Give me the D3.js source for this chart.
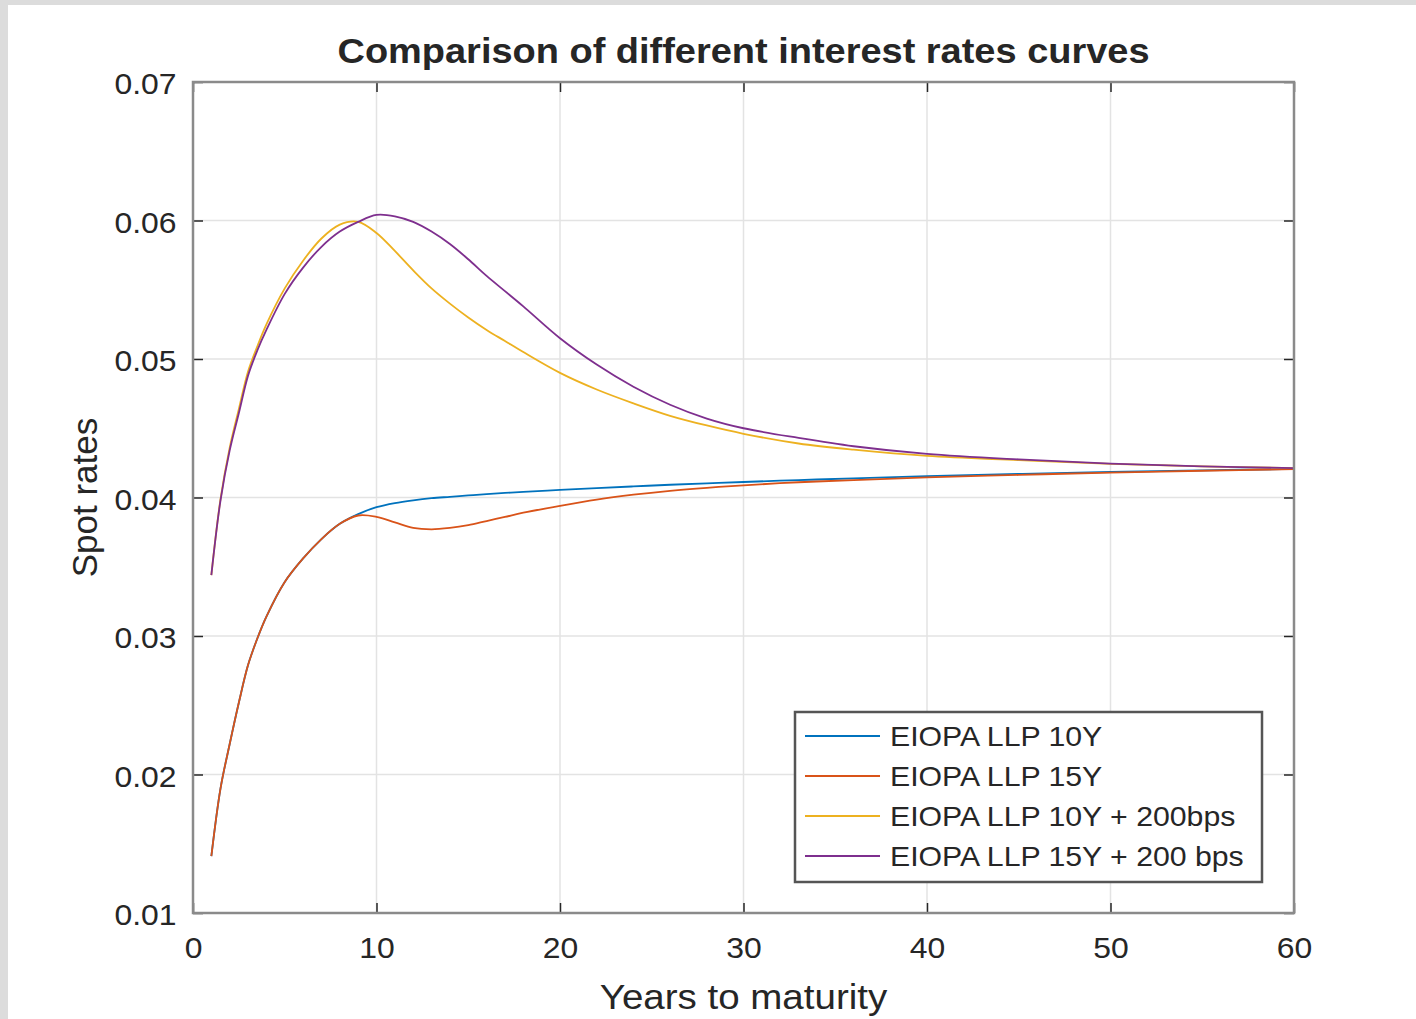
<!DOCTYPE html>
<html><head><meta charset="utf-8">
<script src="https://cdn.jsdelivr.net/npm/d3@7"></script>
<style>
body{margin:0;background:#fff;}
svg{display:block;}
text{font-family:"Liberation Sans",Arial,Helvetica,sans-serif;fill:#262626;}
</style>
</head><body>
<svg id="chart" width="1416" height="1019"></svg>
<script>
// ---- data ----
const years = [1,1.5,2,2.5,3,3.5,4,5,6,7,8,9,10,11,12,13,14,15,16,17,18,20,22,24,26,28,30,33,36,40,45,50,55,60];
const llp10 = [0.0141,0.0190,0.0222,0.0252,0.0279,0.0298,0.0314,0.0339,0.0356,0.0370,0.0381,0.0388,0.03930,0.03960,0.03980,0.03995,0.04005,0.04015,0.04025,0.04033,0.04040,0.04055,0.04068,0.04080,0.04092,0.04102,0.04112,0.04126,0.04138,0.04155,0.04170,0.04184,0.04196,0.04206];
const llp15 = [0.0141,0.0190,0.0222,0.0252,0.0279,0.0298,0.0314,0.0339,0.0356,0.0370,0.0381,0.0387,0.0386,0.0382,0.0378,0.0377,0.0378,0.0380,0.0383,0.0386,0.0389,0.0394,0.03985,0.04020,0.04048,0.04070,0.04088,0.04110,0.04125,0.04145,0.04163,0.04180,0.04193,0.04205];
const llp10plus200 = [0.0344,0.0399,0.0436,0.0464,0.0491,0.0509,0.0525,0.0551,0.0571,0.0587,0.0597,0.0599,0.0591,0.0578,0.0564,0.0551,0.0540,0.0530,0.0521,0.0513,0.0505,0.0490,0.0478,0.0468,0.0459,0.0452,0.0446,0.0439,0.04345,0.04300,0.04270,0.04243,0.04225,0.04212];
const llp15plus200 = [0.0344,0.0398,0.0434,0.0461,0.0488,0.0506,0.0521,0.0547,0.0566,0.0581,0.0592,0.0599,0.0604,0.0603,0.0599,0.0592,0.0583,0.0572,0.0560,0.0549,0.0538,0.0515,0.0496,0.0480,0.0467,0.0457,0.0450,0.0443,0.0437,0.04315,0.04275,0.04245,0.04225,0.04212];
const seriesNames = ["EIOPA LLP 10Y","EIOPA LLP 15Y","EIOPA LLP 10Y + 200bps","EIOPA LLP 15Y + 200 bps"];
const xTickValues = [0,10,20,30,40,50,60];
const yTickValues = [0.01,0.02,0.03,0.04,0.05,0.06,0.07];
const titleText = "Comparison of different interest rates curves";
const xLabel = "Years to maturity";
const yLabel = "Spot rates";

// ---- styling ----
const colors = ["#0072BD","#D95319","#EDB120","#7E2F8E"];
const SX = 1.1; // horizontal stretch of the reference's text
const W = 1416, H = 1019;
const m = {left:193, right:122, top:82, bottom:106};
const iw = W - m.left - m.right, ih = H - m.top - m.bottom;

const svg = d3.select("#chart");
svg.append("rect").attr("x",0).attr("y",0).attr("width",W).attr("height",5).attr("fill","#dcdcdc");
svg.append("rect").attr("x",0).attr("y",0).attr("width",8).attr("height",H).attr("fill","#dcdcdc");

const x = d3.scaleLinear().domain([0,60]).range([0,iw]);
const y = d3.scaleLinear().domain([0.01,0.07]).range([ih,0]);

const g = svg.append("g").attr("transform",`translate(${m.left},${m.top})`);

// grid
g.append("g").selectAll("line").data(xTickValues.slice(1,-1)).join("line")
  .attr("x1",d=>x(d)).attr("x2",d=>x(d)).attr("y1",0).attr("y2",ih)
  .attr("stroke","#e3e3e3").attr("stroke-width",1.5);
g.append("g").selectAll("line").data(yTickValues.slice(1,-1)).join("line")
  .attr("y1",d=>y(d)).attr("y2",d=>y(d)).attr("x1",0).attr("x2",iw)
  .attr("stroke","#e3e3e3").attr("stroke-width",1.5);

// series
const series = [llp10, llp15, llp10plus200, llp15plus200];
const line = d3.line().x((d,i)=>x(years[i])).y(d=>y(d)).curve(d3.curveCatmullRom.alpha(0.5));
series.forEach((s,k)=>{
  g.append("path").datum(s).attr("d",line).attr("fill","none")
   .attr("stroke",colors[k]).attr("stroke-width",1.8).attr("stroke-linejoin","round");
});

// axes (ticks inward, on all four sides)
const tickStyle = sel => {
  sel.select(".domain").remove();
  sel.selectAll(".tick line").attr("stroke","#262626").attr("stroke-width",1.5);
  sel.selectAll(".tick text").attr("fill","#262626").style("font-size","29px");
};
const xb = g.append("g").attr("transform",`translate(0,${ih})`)
  .call(d3.axisBottom(x).tickValues(xTickValues).tickSizeInner(-10).tickSizeOuter(0).tickPadding(24).tickFormat(d3.format("d")));
tickStyle(xb);
xb.selectAll(".tick text").attr("dy","0.71em").attr("transform",`scale(${SX},1)`);
const xt = g.append("g")
  .call(d3.axisTop(x).tickValues(xTickValues).tickSizeInner(-10).tickSizeOuter(0).tickFormat(""));
tickStyle(xt);
const yl = g.append("g")
  .call(d3.axisLeft(y).tickValues(yTickValues).tickSizeInner(-10).tickSizeOuter(0).tickPadding(15).tickFormat(d3.format(".2f")));
tickStyle(yl);
yl.selectAll(".tick text").attr("dy","0.4em").attr("transform",`scale(${SX},1)`);
const yr = g.append("g").attr("transform",`translate(${iw},0)`)
  .call(d3.axisRight(y).tickValues(yTickValues).tickSizeInner(-10).tickSizeOuter(0).tickFormat(""));
tickStyle(yr);

// frame
g.append("rect").attr("x",0).attr("y",0).attr("width",iw).attr("height",ih)
  .attr("fill","none").attr("stroke","#8a8a8a").attr("stroke-width",2.5);

// title & labels
svg.append("text").attr("transform",`translate(${m.left+iw/2},63) scale(1.085,1)`).attr("text-anchor","middle")
  .style("font-size","35px").style("font-weight","bold").attr("fill","#000").text(titleText);
svg.append("text").attr("transform",`translate(${m.left+iw/2},1009) scale(${SX},1)`).attr("text-anchor","middle")
  .style("font-size","35px").text(xLabel);
svg.append("text").attr("transform",`translate(97,${m.top+ih/2}) rotate(-90)`).attr("text-anchor","middle")
  .style("font-size","35px").text(yLabel);

// legend
const lg = svg.append("g").attr("transform","translate(795,712)");
lg.append("rect").attr("width",467).attr("height",170).attr("fill","#fff")
  .attr("stroke","#555").attr("stroke-width",2.5);
seriesNames.forEach((nm,k)=>{
  const cy = 24 + k*40;
  lg.append("line").attr("x1",10).attr("x2",85).attr("y1",cy).attr("y2",cy)
    .attr("stroke",colors[k]).attr("stroke-width",1.8);
  lg.append("text").attr("transform",`translate(95,${cy}) scale(1.08,1)`).attr("dy","0.36em")
    .style("font-size","28px").attr("fill","#000").text(nm);
});
</script>
</body></html>
